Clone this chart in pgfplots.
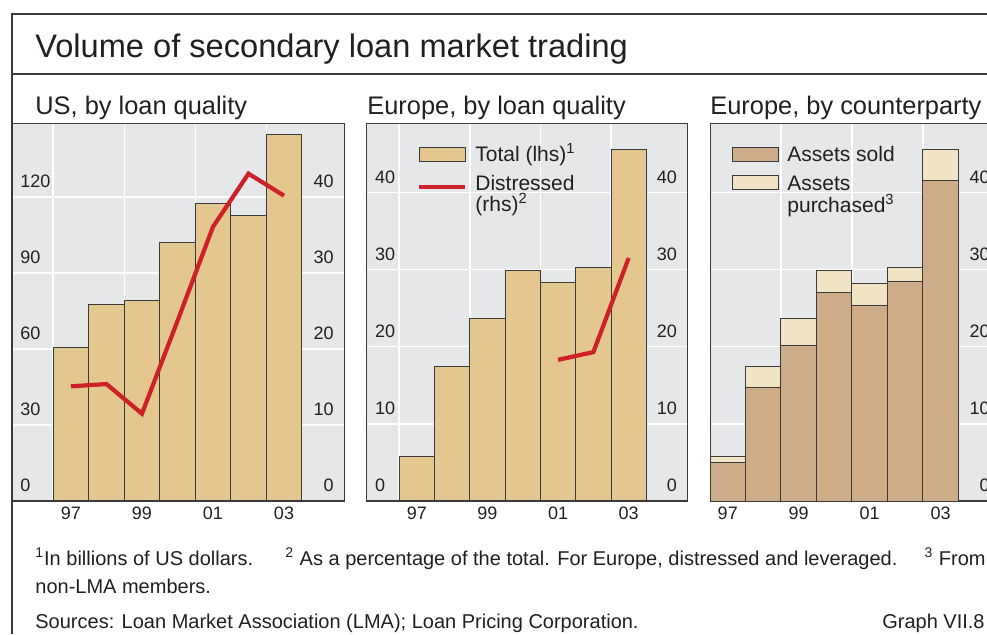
\documentclass[border=0pt]{standalone}
\usepackage{pgfplots}
\pgfplotsset{compat=1.18}
\usepackage{fontspec}
\setmainfont{Liberation Sans}
\definecolor{bggray}{HTML}{E6E7E8}
\definecolor{tanbar}{HTML}{E4C78E}
\definecolor{lred}{HTML}{CE2029}
\definecolor{sold}{HTML}{CEAC87}
\definecolor{purch}{HTML}{F1E4C4}
\definecolor{frame}{HTML}{3A3A3A}
\definecolor{txt}{HTML}{231F20}

\pgfplotsset{
  panelbase/.style={
    scale only axis, anchor=south west,
    axis background/.style={fill=bggray},
    axis line style={draw=frame, line width=0.5pt},
    ymin=0,
    xtick={1997,1999,2001,2003}, xticklabels={97,99,01,03},
    minor xtick={1996.5,1998.5,2000.5,2002.5},
    xminorgrids=true, ymajorgrids=true, xmajorgrids=false,
    major grid style={white, line width=0.7pt},
    minor grid style={white, line width=0.7pt},
    major tick length=0pt, minor tick length=0pt,
    /pgf/number format/assume math mode=true,
    tick label style={font=\fontsize{9}{10}\selectfont, text=txt},
    xticklabel style={inner sep=0pt, anchor=north, yshift=-3pt},
    bar width=1,
  },
  panel/.style={panelbase,
    yticklabel style={inner sep=0pt, anchor=south west, xshift=4pt, yshift=4.4pt},
  },
  panelright/.style={panelbase, yticklabel pos=right,
    yticklabel style={inner sep=0pt, anchor=south east, xshift=-5pt, yshift=4.4pt},
  },
  rhs/.style={
    scale only axis, anchor=south west,
    axis x line=none, axis y line*=right,
    axis line style={draw=none},
    ymin=0, ytick={0,10,20,30,40},
    major tick length=0pt,
    /pgf/number format/assume math mode=true,
    tick label style={font=\fontsize{9}{10}\selectfont, text=txt},
    yticklabel style={inner sep=0pt, anchor=south east, xshift=-5pt, yshift=4.4pt},
  }
}

\begin{document}
\begin{tikzpicture}

% ---------- Panel 1: US ----------
\begin{axis}[panel, at={(6pt,66.5pt)}, width=166pt, height=189pt,
  xmin=1995.34, xmax=2004.69, ymax=149.3, ytick={0,30,60,90,120}]
\addplot[ybar, fill=tanbar, draw=frame, line width=0.5pt] coordinates {
 (1997,60.6) (1998,77.7) (1999,79.2) (2000,102.1) (2001,117.6) (2002,112.6) (2003,144.7)};
\draw[frame, line width=1pt] (rel axis cs:0,0) -- (rel axis cs:1,0);
\end{axis}
\begin{axis}[rhs, at={(6pt,66.5pt)}, width=166pt, height=189pt,
  xmin=1995.34, xmax=2004.69, ymax=49.77]
\addplot[lred, line width=2.1pt, mark=none] coordinates {
 (1997,15.1) (1998,15.4) (1999,11.5) (2000,23.7) (2001,36.1) (2002,43.1) (2003,40.2)};
\end{axis}

% ---------- Panel 2: Europe by loan quality ----------
\begin{axis}[panel, at={(183.35pt,66.5pt)}, width=160.3pt, height=189pt,
  xmin=1995.58, xmax=2004.66, ymax=49, ytick={0,10,20,30,40}]
\addplot[ybar, fill=tanbar, draw=frame, line width=0.5pt] coordinates {
 (1997,5.8) (1998,17.5) (1999,23.65) (2000,29.9) (2001,28.3) (2002,30.3) (2003,45.6)};
\draw[frame, line width=1pt] (rel axis cs:0,0) -- (rel axis cs:1,0);
\end{axis}
\begin{axis}[rhs, at={(183.35pt,66.5pt)}, width=160.3pt, height=189pt,
  xmin=1995.58, xmax=2004.66, ymax=49]
\addplot[lred, line width=2.1pt, mark=none] coordinates {
 (2001,18.3) (2002,19.3) (2003,31.5)};
\end{axis}

% ---------- Panel 3: Europe by counterparty ----------
\begin{axis}[panelright, at={(355pt,66.5pt)}, width=145pt, height=189pt,
  xmin=1996.5, xmax=2004.67, ymax=49, ytick={0,10,20,30,40},
  ybar stacked]
\addplot[fill=sold, draw=frame, line width=0.5pt] coordinates {
 (1997,5.0) (1998,14.7) (1999,20.2) (2000,27.0) (2001,25.3) (2002,28.4) (2003,41.5)};
\addplot[fill=purch, draw=frame, line width=0.5pt] coordinates {
 (1997,0.74) (1998,2.8) (1999,3.4) (2000,2.9) (2001,2.9) (2002,1.9) (2003,4.1)};
\draw[frame, line width=1pt] (rel axis cs:0,0) -- (rel axis cs:1,0);
\end{axis}

\begin{scope}[x=0.5pt, y=0.5pt]
% ---------- Frame and titles ----------
\draw[frame, line width=0.6pt] (12,0) -- (12,620) -- (995,620);
\draw[frame, line width=0.6pt] (12,560) -- (995,560);
\node[anchor=base west, inner sep=0, text=txt, font=\fontsize{16.3}{19}\selectfont] at (35,577) {Volume of secondary loan market trading};
\begin{scope}[every node/.style={anchor=base west, inner sep=0, text=txt, font=\fontsize{12.7}{15}\selectfont}]
\node at (35,519.5) {US, by loan quality};
\node at (367,519.5) {Europe, by loan quality};
\node at (710,519.5) {Europe, by counterparty};
\end{scope}

% ---------- Legends ----------
\begin{scope}[every node/.style={anchor=base west, inner sep=0, text=txt, font=\fontsize{10.5}{12}\selectfont}]
\filldraw[fill=tanbar, draw=frame, line width=0.5pt] (419,487) rectangle (465,473);
\draw[lred, line width=2.1pt] (419,447) -- (465,447);
\node at (475,472.3) {Total (lhs)\textsuperscript{1}};
\node at (475,444) {Distressed};
\node at (475,422.5) {(rhs)\textsuperscript{2}};
\filldraw[fill=sold, draw=frame, line width=0.5pt] (732,487) rectangle (778,473);
\filldraw[fill=purch, draw=frame, line width=0.5pt] (732,459) rectangle (778,445);
\node at (787,472.3) {Assets sold};
\node at (787,444) {Assets};
\node at (787,421.5) {purchased\textsuperscript{3}};
\end{scope}

% ---------- Footnotes ----------
\begin{scope}[every node/.style={anchor=base west, inner sep=0, text=txt, font=\fontsize{10}{11}\selectfont}]
\node at (35,69) {\textsuperscript{1}In billions of US dollars.};
\node at (285,69) {\textsuperscript{2} As a percentage of the total. For Europe, distressed and leveraged.};
\node[anchor=base east] at (986,69) {\textsuperscript{3} From};
\node at (35,41) {non-LMA members.};
\node at (35,6) {Sources: Loan Market Association (LMA); Loan Pricing Corporation.};
\node[anchor=base east] at (985,6) {Graph VII.8};
\end{scope}
\end{scope}

\pgfresetboundingbox
\path[use as bounding box] (0pt,0pt) rectangle (493.5pt,317pt);
\end{tikzpicture}
\end{document}
